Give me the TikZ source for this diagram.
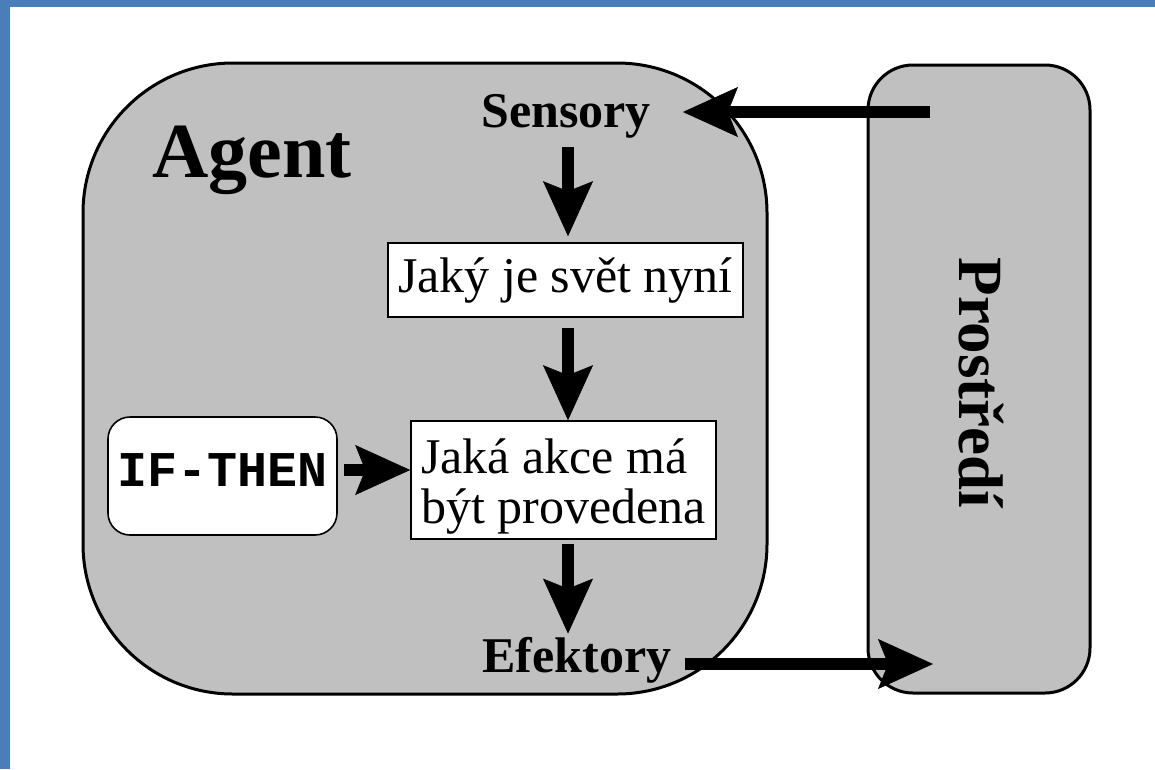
\documentclass[tikz,border=0pt]{standalone}
\usepackage{fontspec}
\setmainfont{Liberation Serif}
\setmonofont{Liberation Mono}
\usetikzlibrary{arrows.meta}
\definecolor{frameblue}{RGB}{74,126,187}
\definecolor{panelgray}{RGB}{192,192,192}
\tikzset{
  panel/.style={draw=black, fill=panelgray, line width=3pt, inner sep=0pt},
  box/.style={draw=black, fill=white, line width=1.6pt, inner sep=0pt},
  plain/.style={font=\fontsize{50}{50}\selectfont},
  heading/.style={font=\bfseries\fontsize{50}{50}\selectfont, inner sep=0pt},
  flow/.style={line width=12pt,
    -{Stealth[length=55pt, width=50pt, inset=10pt, line width=0.5pt]}},
}
\begin{document}
\begin{tikzpicture}[x=1pt, y=-1pt]
\useasboundingbox (0,0) rectangle (1155,769);
\fill[white] (0,0) rectangle (1155,769);
% slide frame
\fill[frameblue] (0,0) rectangle (1155,7);
\fill[frameblue] (0,0) rectangle (10,769);

% agent and environment panels
\node[panel, rounded corners=150pt, minimum width=684, minimum height=631]
  (agent) at (425,378.5) {};
\node[panel, rounded corners=45pt, minimum width=222, minimum height=628]
  (env) at (979,379) {};

% labels
\node[heading, font=\bfseries\fontsize{78}{78}\selectfont, anchor=base]
  (agentlabel) at (252,177) {Agent};
\node[heading, font=\bfseries\fontsize{63}{63}\selectfont, rotate=-90]
  (envlabel) at (981,383) {Prostředí};
\node[heading, anchor=base] (sensory) at (566,127) {Sensory};
\node[heading, anchor=base] (efektory) at (577,672) {Efektory};

% processing boxes
\node[box, plain, minimum width=355, minimum height=74]
  (now) at (565.5,280) {Jaký je svět nyní};
\node[box, plain, minimum width=305, minimum height=118, align=left]
  (act) at (563.5,480) {\rule{0pt}{47pt}Jaká akce má\\být provedena};
\node[box, rounded corners=22pt, minimum width=229, minimum height=118,
  font=\ttfamily\bfseries\fontsize{50}{50}\selectfont, text depth=12pt]
  (rule) at (222.5,476) {IF-THEN};

% connectors
\coordinate (spine) at (568,0);
\coordinate (envin) at (930,112);
\coordinate (envout) at (933,664);
\draw[flow, shorten <=9pt, shorten >=6pt]
  (sensory.south -| spine) -- (now.north -| spine);
\draw[flow, shorten <=10pt] (now.south -| spine) -- (act.north -| spine);
\draw[flow, shorten <=4pt, shorten >=3pt]
  (act.south -| spine) -- (efektory.north -| spine);
\draw[flow, shorten <=6pt]
  ([yshift=6pt]rule.east) -- ([yshift=6pt]rule.east -| act.west);
\draw[flow, shorten >=32pt] (envin) -- (envin -| sensory.east);
\draw[flow, shorten <=13pt] (efektory.east |- envout) -- (envout);
\end{tikzpicture}
\end{document}
